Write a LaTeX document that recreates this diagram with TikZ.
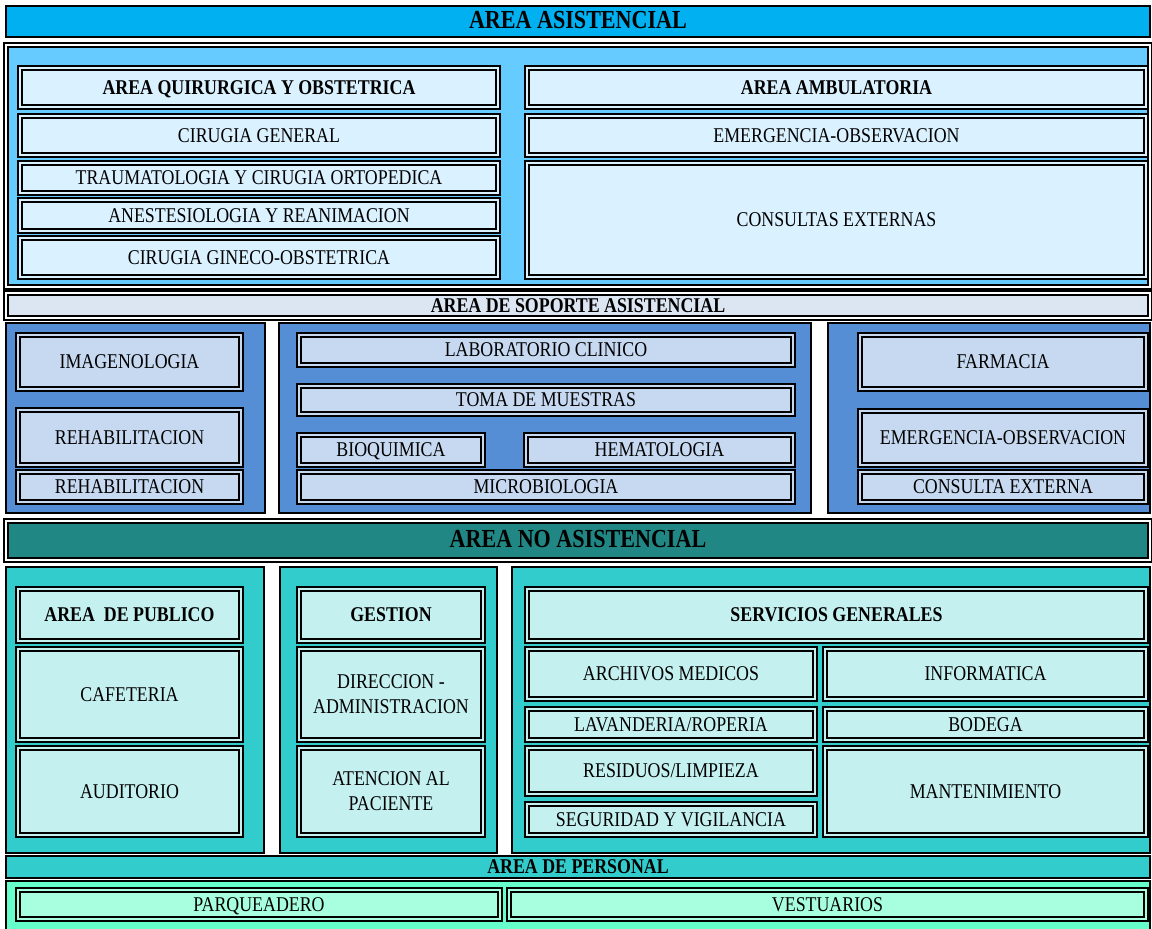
\documentclass[tikz,border=0pt]{standalone}
\usepackage{fontspec}
\setmainfont{Liberation Serif}[FakeStretch=0.85]
\usetikzlibrary{fit}
\definecolor{asistcab}{HTML}{00B0F0}
\definecolor{asistfondo}{HTML}{66CCFF}
\definecolor{asistcaja}{HTML}{DAF1FF}
\definecolor{soportecab}{HTML}{DCE6F2}
\definecolor{soportefondo}{HTML}{558ED5}
\definecolor{soportecaja}{HTML}{C6D9F1}
\definecolor{nocab}{HTML}{218784}
\definecolor{nofondo}{HTML}{33CCCC}
\definecolor{nocaja}{HTML}{C4F0F0}
\definecolor{persfondo}{HTML}{66FFCC}
\definecolor{perscaja}{HTML}{A8FFE0}
\tikzstyle{dosrenglones}=[font=\fontsize{10.5}{12.5}\selectfont,align=center,inner sep=0pt]
\tikzstyle{letra}=[dosrenglones,text height=0.66em,text depth=0pt]
\tikzstyle{negrita}=[letra,font=\fontsize{10.5}{12.5}\selectfont\bfseries]
\tikzstyle{titulo}=[letra,font=\fontsize{13}{15}\selectfont\bfseries]
\tikzstyle{franja}=[draw,line width=1pt,inner sep=0pt]
\tikzstyle{dobleborde}=[draw,line width=0.8pt,double=white,double distance=1pt,inner sep=0pt]
\tikzstyle{panel}=[draw,line width=1.2pt,inner sep=0pt]
\tikzstyle{caja}=[draw,line width=1pt,double distance=0.7pt,inner sep=0pt]
\tikzstyle{cajaA}=[caja,fill=asistcaja,double=asistcaja]
\tikzstyle{cajaS}=[caja,fill=soportecaja,double=soportecaja]
\tikzstyle{cajaN}=[caja,fill=nocaja,double=nocaja]
\tikzstyle{cajaP}=[caja,fill=perscaja,double=perscaja]
% box fitted between two corners (pixels, y downwards), text node in its centre
\newcommand{\cajon}[6][]{\node[#1,fit={(#3) (#4)}] (#2) {};
	\node[#5] (#2-t) at (#2.center) {#6};}

\begin{document}
\begin{tikzpicture}[x=0.5pt,y=-0.5pt]
\clip (0,0) rectangle (1152,928);
\fill[white] (0,0) rectangle (1152,928);

\cajon[franja,fill=asistcab]{asist}{6,6}{1150,37}{titulo}{AREA ASISTENCIAL}
\cajon[dobleborde,fill=asistfondo]{asistarea}{6,45}{1150,287}{letra}{}

\cajon[cajaA]{quir}{20,68}{498,107}{negrita}{AREA QUIRURGICA Y OBSTETRICA}
\cajon[cajaA]{cirgen}{20,116}{498,155}{letra}{CIRUGIA GENERAL}
\cajon[cajaA]{trauma}{20,163}{498,193}{letra}{TRAUMATOLOGIA Y CIRUGIA ORTOPEDICA}
\cajon[cajaA]{anest}{20,200}{498,231}{letra}{ANESTESIOLOGIA Y REANIMACION}
\cajon[cajaA]{gineco}{20,238}{498,277}{letra}{CIRUGIA GINECO-OBSTETRICA}
\cajon[cajaA]{ambul}{527,68}{1146,107}{negrita}{AREA AMBULATORIA}
\cajon[cajaA]{emerg}{527,116}{1146,155}{letra}{EMERGENCIA-OBSERVACION}
\cajon[cajaA]{consext}{527,163}{1146,277}{letra}{CONSULTAS EXTERNAS}

\cajon[dobleborde,fill=soportecab]{soporte}{6,293}{1150,318}{negrita}{AREA DE SOPORTE ASISTENCIAL}
\foreach \a/\b/\n in {6/265/A,279/811/B,828/1150/C}{
	\cajon[panel,fill=soportefondo]{sop\n}{\a,323}{\b,513}{letra}{}
}
\cajon[cajaS]{imagen}{18,335}{241,389}{letra}{IMAGENOLOGIA}
\cajon[cajaS]{rehabA}{18,410}{241,465}{letra}{REHABILITACION}
\cajon[cajaS]{rehabB}{18,472}{241,502}{letra}{REHABILITACION}
\cajon[cajaS]{labclin}{299,335}{793,365}{letra}{LABORATORIO CLINICO}
\cajon[cajaS]{toma}{299,386}{793,414}{letra}{TOMA DE MUESTRAS}
\cajon[cajaS]{bioq}{299,435}{483,465}{letra}{BIOQUIMICA}
\cajon[cajaS]{hemat}{526,435}{793,465}{letra}{HEMATOLOGIA}
\cajon[cajaS]{micro}{299,472}{793,502}{letra}{MICROBIOLOGIA}
\cajon[cajaS]{farm}{860,335}{1146,389}{letra}{FARMACIA}
\cajon[cajaS]{emergB}{860,411}{1146,465}{letra}{EMERGENCIA-OBSERVACION}
\cajon[cajaS]{consextB}{860,472}{1146,502}{letra}{CONSULTA EXTERNA}

\cajon[dobleborde,fill=nocab]{noasist}{6,521}{1150,560}{titulo}{AREA NO ASISTENCIAL}
\foreach \a/\b/\n in {6/264/A,280/497/B,512/1150/C}{
	\cajon[panel,fill=nofondo]{nopan\n}{\a,567}{\b,853}{letra}{}
}
\cajon[cajaN]{publico}{18,589}{241,641}{negrita}{AREA\ \ DE PUBLICO}
\cajon[cajaN]{cafe}{18,649}{241,740}{letra}{CAFETERIA}
\cajon[cajaN]{audit}{18,748}{241,835}{letra}{AUDITORIO}
\cajon[cajaN]{gestion}{299,589}{483,641}{negrita}{GESTION}
\cajon[cajaN]{direcc}{299,649}{483,740}{dosrenglones}{DIRECCION -\\ADMINISTRACION}
\cajon[cajaN]{atenc}{299,748}{483,835}{dosrenglones}{ATENCION AL\\PACIENTE}
\cajon[cajaN]{servgen}{527,589}{1146,641}{negrita}{SERVICIOS GENERALES}
\cajon[cajaN]{archiv}{527,649}{815,699}{letra}{ARCHIVOS MEDICOS}
\cajon[cajaN]{inform}{825,649}{1146,699}{letra}{INFORMATICA}
\cajon[cajaN]{lavand}{527,709}{815,740}{letra}{LAVANDERIA/ROPERIA}
\cajon[cajaN]{bodega}{825,709}{1146,740}{letra}{BODEGA}
\cajon[cajaN]{resid}{527,748}{815,794}{letra}{RESIDUOS/LIMPIEZA}
\cajon[cajaN]{segur}{527,804}{815,835}{letra}{SEGURIDAD Y VIGILANCIA}
\cajon[cajaN]{mant}{825,748}{1146,835}{letra}{MANTENIMIENTO}

\cajon[franja,fill=nofondo]{personal}{6,856}{1150,878}{negrita}{AREA DE PERSONAL}
\cajon[panel,fill=persfondo]{persarea}{6,881}{1150,940}{letra}{}
\cajon[cajaP]{parq}{18,890}{500,919}{letra}{PARQUEADERO}
\cajon[cajaP]{vest}{509,890}{1146,919}{letra}{VESTUARIOS}
\end{tikzpicture}
\end{document}
